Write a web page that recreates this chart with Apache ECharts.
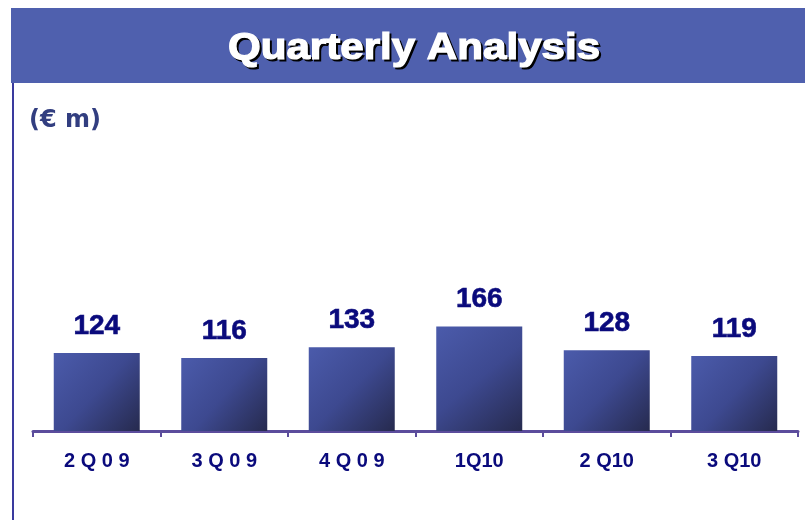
<!DOCTYPE html>
<html>
<head>
<meta charset="utf-8">
<style>html,body{margin:0;padding:0;background:#fff;}#c{width:805px;height:520px;}</style>
<script src="https://cdn.jsdelivr.net/npm/echarts@6/dist/echarts.min.js"></script>
</head>
<body>
<div id="c"></div>
<script>
var titleText = 'Quarterly Analysis';
var unitText = '(€ m)';
var categories = ['2 Q 0 9', '3 Q 0 9', '4 Q 0 9', '1Q10', '2 Q10', '3 Q10'];
var values = [124, 116, 133, 166, 128, 119];

var chart = echarts.init(document.getElementById('c'), null, {renderer: 'canvas'});
var titleFont = 'bold 36px "Liberation Sans", Arial, sans-serif';
chart.setOption({
  backgroundColor: '#ffffff',
  animation: false,
  grid: {left: 33, right: 7, top: 305, bottom: 89},
  xAxis: {
    type: 'category',
    data: categories,
    axisLine: {lineStyle: {color: '#5b4c9c', width: 3}},
    axisTick: {show: true, length: 6, lineStyle: {color: '#5b4c9c', width: 2}},
    axisLabel: {
      margin: 20,
      color: '#0a0a7c',
      fontSize: 20,
      fontWeight: 'bold',
      fontFamily: '"Liberation Sans", Arial, sans-serif'
    }
  },
  yAxis: {type: 'value', min: 0, max: 200, show: false, splitLine: {show: false}},
  series: [{
    type: 'bar',
    data: values,
    barWidth: 86,
    itemStyle: {
      color: new echarts.graphic.LinearGradient(0, 0, 1, 1, [
        {offset: 0, color: '#4b5bab'},
        {offset: 0.5, color: '#3d4990'},
        {offset: 1, color: '#262a4e'}
      ])
    },
    label: {
      show: true,
      position: 'top',
      distance: 13,
      color: '#0a0a7c',
      fontSize: 28,
      fontWeight: 'bold',
      fontFamily: '"Liberation Sans", Arial, sans-serif',
      textBorderColor: '#0a0a7c',
      textBorderWidth: 0.6
    }
  }],
  graphic: [
    {type: 'rect', shape: {x: 11, y: 8, width: 794, height: 75}, style: {fill: '#4f60ae'}, z: 1},
    {type: 'text', x: 416, y: 51, scaleX: 1.17, z: 2,
      style: {text: titleText, font: titleFont, fill: '#000000', stroke: '#000000', lineWidth: 1.2, align: 'center', verticalAlign: 'middle'}},
    {type: 'text', x: 414, y: 49, scaleX: 1.17, z: 3,
      style: {text: titleText, font: titleFont, fill: '#ffffff', stroke: '#ffffff', lineWidth: 1.2, align: 'center', verticalAlign: 'middle'}},
    {type: 'line', shape: {x1: 13, y1: 83, x2: 13, y2: 520}, style: {stroke: '#3a3a9e', lineWidth: 2}, z: 1},
    {type: 'text', x: 29, y: 109, z: 2,
      style: {text: unitText, font: 'bold 24px "DejaVu Sans", sans-serif', fill: '#323e80', align: 'left', verticalAlign: 'top'}}
  ]
});
</script>
</body>
</html>
